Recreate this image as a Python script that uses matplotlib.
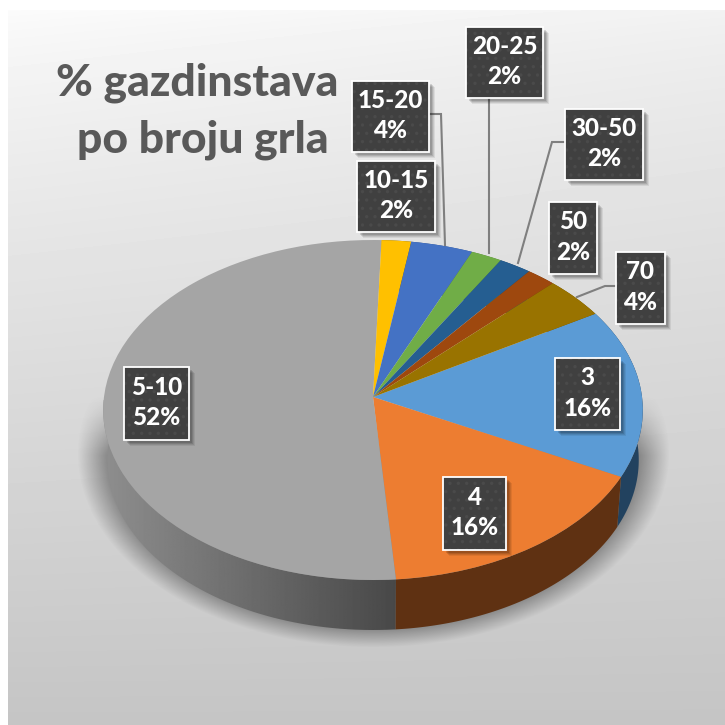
import matplotlib
matplotlib.use("Agg")
import matplotlib.pyplot as plt
import numpy as np
from matplotlib.patches import Polygon, Rectangle
from matplotlib.transforms import Transform

plt.rcParams["font.family"] = ["Lato", "DejaVu Sans"]
plt.rcParams["hatch.linewidth"] = 1.2

# slices, clockwise from the "3" slice
names = ["3", "4", "5-10", "10-15", "15-20", "20-25", "30-50", "50", "70"]
shares = [16.1, 16.2, 51.8, 1.9, 4.0, 2.0, 2.1, 1.9, 4.0]
colors = ["#5b9bd5", "#ed7d31", "#a5a5a5", "#ffc000", "#4472c4",
          "#70ad47", "#255e91", "#9e480e", "#997300"]
wall_colors = ["#22425f", "#5f3112", "#808080", "#7f6000", "#2f4f88",
               "#4e7a31", "#1a4266", "#6e320a", "#6b5000"]
title_lines = ["% gazdinstava", "po broju grla"]

# label boxes in pixels: left, top, right, bottom
boxes = [(555, 358, 620, 430), (443, 477, 506, 550), (124, 367, 189, 440),
         (357, 161, 435, 232), (352, 81, 429, 152), (466, 27, 543, 98),
         (565, 109, 643, 180), (549, 202, 597, 274), (616, 252, 665, 324)]
leaders = [[(430, 114), (441, 114), (445, 245)],
           [(489, 98), (489, 253)],
           [(564, 142), (552, 142), (518, 263)],
           [(616, 286), (605, 286), (577, 297)]]

CX, CY, RX, RY, K = 373, 397, 269, 169, 0.0765
DEPTH = 50


def tilt_xy(u, v, shift=0.0, squeeze=1.0):
    w = 1 + K * v
    return CX + squeeze * RX * u / w, CY + shift - RY * v / w


class Tilt(Transform):
    """Unit circle -> perspective disc, in pixel coordinates."""
    input_dims = output_dims = 2

    def transform_non_affine(self, values):
        x, y = tilt_xy(values[:, 0], values[:, 1])
        return np.column_stack([x, y])


def wall_outline(theta1, theta2):
    t = np.radians(np.linspace(theta1, theta2, 120))
    ux, uy = np.cos(t), np.sin(t)
    xa, ya = tilt_xy(ux, uy)
    xb, yb = tilt_xy(ux, uy, DEPTH, 0.985)
    return np.column_stack([np.r_[xa, xb[::-1]], np.r_[ya, yb[::-1]]])


fig = plt.figure(figsize=(7.25, 7.25), dpi=100, facecolor="white")
ax = fig.add_axes([0, 0, 1, 1])

wedges, _ = ax.pie(shares, colors=colors, startangle=30.8, counterclock=False,
                   wedgeprops={"linewidth": 0, "zorder": 5})
tilt = Tilt() + ax.transData
for w in wedges:
    w.set_transform(tilt)

ax.set_aspect("auto")
ax.set_xlim(0, 725)
ax.set_ylim(725, 0)
ax.axis("off")

# background
yy, xx = np.mgrid[0:715, 0:717]
grad = 0.985 - 0.185 * np.clip(yy / 600, 0, 1) ** 0.8 - 0.035 * (xx / 717) * (1 - yy / 715)
grad -= 0.03 * np.clip((yy - 600) / 115, 0, 1)
ax.imshow(grad, extent=(8, 725, 725, 10), cmap="gray", vmin=0, vmax=1,
          aspect="auto", zorder=0)

# soft shadow under the disc
yy, xx = np.mgrid[380:660, 60:690]
d = np.sqrt(((xx - CX) / 296) ** 2 + ((yy - 453) / 194) ** 2)
alpha = 0.55 * np.clip((1 - d) / 0.1, 0, 1) * np.clip((yy - 395) / 60, 0, 1)
rgba = np.zeros(alpha.shape + (4,))
rgba[..., :3] = 0.3
rgba[..., 3] = alpha
ax.imshow(rgba, extent=(60, 690, 660, 380), aspect="auto", zorder=1)

# side walls, the big grey one gets a horizontal gradient
for w, name, wc in zip(wedges, names, wall_colors):
    outline = wall_outline(w.theta1, w.theta2)
    if name == "5-10":
        clip = Polygon(outline, closed=True, transform=ax.transData,
                       facecolor="none", edgecolor="none")
        ax.add_patch(clip)
        ramp = np.linspace(0.56, 0.27, 300)[None, :]
        im = ax.imshow(ramp, extent=(100, 410, 640, 400), cmap="gray",
                       vmin=0, vmax=1, aspect="auto", zorder=3)
        im.set_clip_path(clip)
    else:
        ax.add_patch(Polygon(outline, closed=True, facecolor=wc,
                             edgecolor="none", zorder=4))

for path in leaders:
    xs, ys = zip(*path)
    ax.plot(xs, ys, color="#7f7f7f", lw=1.5, zorder=6, solid_joinstyle="miter")

for name, pct, (x0, y0, x1, y1) in zip(names, shares, boxes):
    for off, a in [(6, 0.07), (5, 0.09), (4, 0.11), (3, 0.13)]:
        ax.add_patch(Rectangle((x0 + off, y0 + off), x1 - x0, y1 - y0,
                               facecolor="black", edgecolor="none", alpha=a, zorder=7))
    ax.add_patch(Rectangle((x0, y0), x1 - x0, y1 - y0, facecolor="#404040",
                           edgecolor="#4a4a4a", hatch="..", lw=0, zorder=8))
    ax.add_patch(Rectangle((x0, y0), x1 - x0, y1 - y0, facecolor="none",
                           edgecolor="white", lw=1.3, zorder=9))
    ax.text((x0 + x1) / 2, (y0 + y1) / 2 - 1, f"{name}\n{pct:.0f}%", color="white",
            fontsize=17.5, fontweight="black", ha="center", va="center",
            linespacing=1.42, zorder=10)

ax.text(197, 83, title_lines[0], color="#595959", fontsize=32, fontweight="black",
        ha="center", va="center", zorder=10)
ax.text(203, 140, title_lines[1], color="#595959", fontsize=32, fontweight="black",
        ha="center", va="center", zorder=10)

fig.savefig("out.png", dpi=100)
